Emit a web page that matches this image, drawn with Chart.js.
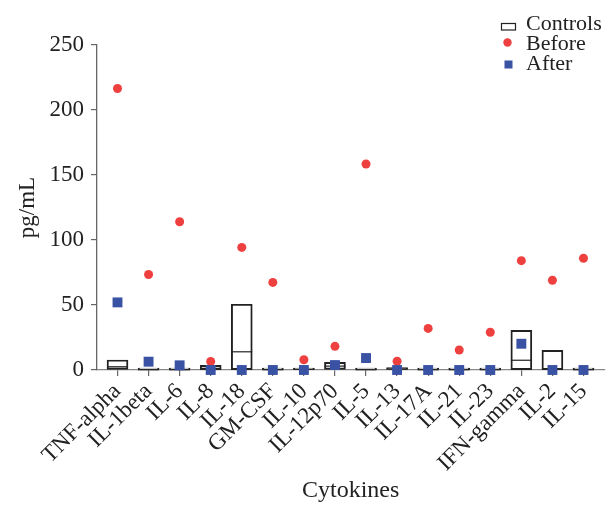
<!DOCTYPE html>
<html>
<head>
<meta charset="utf-8">
<script src="https://cdn.jsdelivr.net/npm/chart.js@4.4.1/dist/chart.umd.min.js"></script>
<style>
  html, body { margin: 0; padding: 0; background: #fff; }
  #wrap { width: 616px; height: 506px; }
</style>
</head>
<body>
<div id="wrap"><canvas id="chart"></canvas></div>
<script>
/* ── Data ───────────────────────────────────────────────────────────── */
const CYTOKINES = ['TNF-alpha', 'IL-1beta', 'IL-6', 'IL-8', 'IL-18', 'GM-CSF', 'IL-10', 'IL-12p70',
                   'IL-5', 'IL-13', 'IL-17A', 'IL-21', 'IL-23', 'IFN-gamma', 'IL-2', 'IL-15'];

const BEFORE = [216.5, 73.5, 114, 6.5, 94.3, 67.4, 7.9, 18.2, 158.5, 6.7, 32, 15.4, 29, 84.1, 69, 86];
const AFTER  = [52, 6.4, 3.6, 0, 0, 0, 0, 3.8, 9.2, 0, 0, 0, 0, 20.2, 0, 0];

// controls: min / median / max
const CTRL_LOW  = [0.5, 0, 0, 0, 0.3, 0, 0, 0, 0, 0, 0, 0, 0, 0.3, 0.3, 0];
const CTRL_MED  = [2.5, 0.2, 0.2, 0.5, 14, 0.2, 0.5, 3, 0.2, 0.8, 0.2, 0.2, 0.2, 7.5, 0.8, 0.2];
const CTRL_HIGH = [7.7, 0.5, 0.5, 3.6, 50.6, 0.5, 1.2, 5.9, 0.3, 1.8, 0.3, 0.3, 0.3, 30.5, 15.1, 0.3];

const Y_MIN = 0, Y_MAX = 250, Y_STEP = 50;

/* ── Style ──────────────────────────────────────────────────────────── */
const RED  = '#ef4040';
const BLUE = '#3a52a3';
const INK  = '#222';
const AXIS = '#666';
const FONT = "'Liberation Serif', 'Times New Roman', serif";

Chart.defaults.font.family = FONT;
Chart.defaults.color = INK;

/* ── Legend drawn in the top right corner ───────────────────────────── */
const cornerLegend = {
  id: 'cornerLegend',
  afterDraw(chart) {
    const ctx = chart.ctx;
    const x = 508.5, tx = 526;
    ctx.save();
    ctx.font = '22px ' + FONT;
    ctx.fillStyle = INK;
    ctx.textBaseline = 'alphabetic';
    ctx.textAlign = 'left';

    ctx.strokeStyle = INK;
    ctx.lineWidth = 1.2;
    ctx.strokeRect(x - 7, 23.5, 14, 6.5);
    ctx.fillText('Controls', tx, 29.5);

    ctx.fillStyle = RED;
    ctx.beginPath();
    ctx.arc(x - 1, 42.5, 4.2, 0, Math.PI * 2);
    ctx.fill();
    ctx.fillStyle = INK;
    ctx.fillText('Before', tx, 49.5);

    ctx.fillStyle = BLUE;
    ctx.fillRect(x - 4, 60.5, 8, 8);
    ctx.fillStyle = INK;
    ctx.fillText('After', tx, 69.5);
    ctx.restore();
  },
};

/* ── Chart ──────────────────────────────────────────────────────────── */
new Chart(document.getElementById('chart'), {
  type: 'bar',
  data: {
    datasets: [
      {
        type: 'scatter',
        label: 'After',
        data: AFTER.map((v, i) => ({ x: i, y: v })),
        pointStyle: 'rect',
        pointRadius: 7,
        pointHoverRadius: 7,
        backgroundColor: BLUE,
        borderWidth: 0,
        clip: false,
      },
      {
        type: 'scatter',
        label: 'Before',
        data: BEFORE.map((v, i) => ({ x: i, y: v })),
        pointStyle: 'circle',
        pointRadius: 4.5,
        pointHoverRadius: 4.5,
        backgroundColor: RED,
        borderWidth: 0,
        clip: false,
      },
      {
        type: 'scatter',
        label: 'Controls median',
        data: CTRL_MED.map((v, i) => ({ x: i, y: v })),
        pointStyle: 'line',
        pointRadius: 10.5,
        pointHoverRadius: 10.5,
        borderColor: INK,
        borderWidth: 1.2,
        clip: false,
      },
      {
        type: 'bar',
        label: 'Controls',
        data: CTRL_HIGH.map((v, i) => ({ x: i, y: [CTRL_LOW[i], v] })),
        backgroundColor: 'rgba(255,255,255,0)',
        borderColor: INK,
        borderWidth: 1.3,
        borderSkipped: false,
        barThickness: 21,
        minBarLength: 2,
      },
    ],
  },
  options: {
    responsive: true,
    maintainAspectRatio: false,
    animation: false,
    events: [],
    layout: { padding: { top: 45, right: 9, left: 0, bottom: 0 } },
    plugins: {
      legend: { display: false },
      tooltip: { enabled: false },
    },
    scales: {
      x: {
        type: 'linear',
        offset: false,
        min: -0.66,
        max: 15.67,
        afterBuildTicks: s => { s.ticks = CYTOKINES.map((_, i) => ({ value: i })); },
        afterFit: s => { s.height = 136; },
        grid: { drawOnChartArea: false, tickLength: 6, color: AXIS, lineWidth: 1.2, offset: false },
        border: { display: true, color: '#888', width: 1.3, dash: [2, 2] },
        ticks: {
          autoSkip: false,
          minRotation: 45,
          maxRotation: 45,
          padding: 2,
          color: INK,
          font: { size: 23 },
          callback: v => CYTOKINES[v],
        },
        title: {
          display: true,
          text: 'Cytokines',
          color: INK,
          font: { size: 24 },
          padding: { top: 0, bottom: 1 },
        },
      },
      y: {
        min: Y_MIN,
        max: Y_MAX,
        afterFit: s => { s.width = 97; },
        grid: { drawOnChartArea: false, tickLength: 6, color: AXIS, lineWidth: 1.2 },
        border: { display: true, color: AXIS, width: 1.3 },
        ticks: { stepSize: Y_STEP, padding: 7, color: INK, font: { size: 23 } },
        title: {
          display: true,
          text: 'pg/mL',
          color: INK,
          font: { size: 23 },
          padding: { top: 14, bottom: 0 },
        },
      },
    },
  },
  plugins: [cornerLegend],
});
</script>
</body>
</html>
